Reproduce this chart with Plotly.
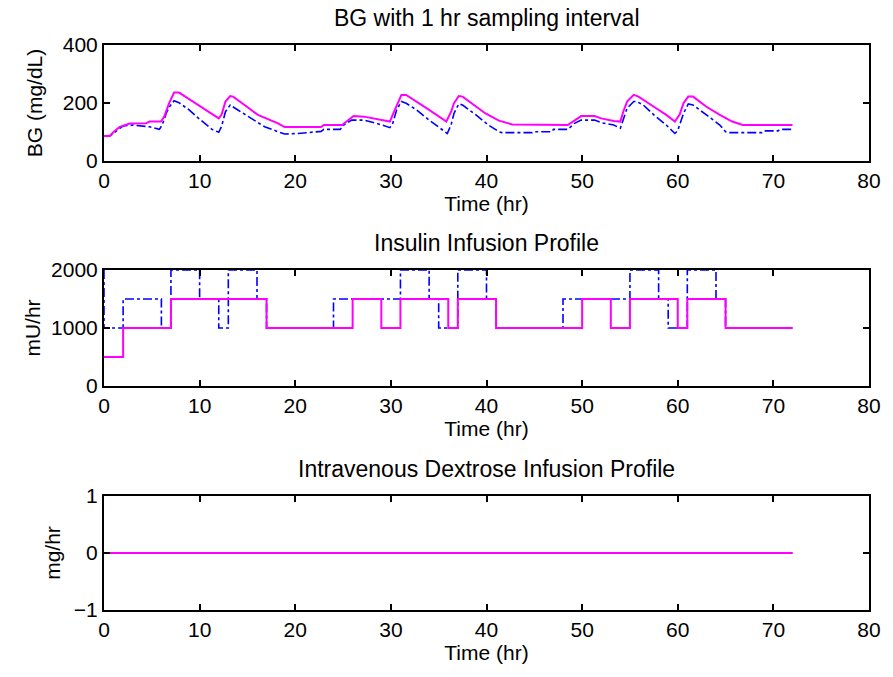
import plotly.graph_objects as go

# ---- Blood glucose (mg/dL) ----
bg_t_mag = [0, 0.6, 1.0, 1.65, 2.7, 4.4, 4.75, 5.96, 6.3, 6.8, 7.33, 7.85, 8.5, 9.9,
            11.3, 12.0, 12.3, 12.7, 13.2, 13.5, 14.7, 16.1, 18.2, 18.9, 22.7, 23.0,
            24.9, 25.5, 26.1, 27.2, 28.5, 29.9, 30.2, 30.6, 31.1, 31.6, 32.7, 34.0,
            35.8, 36.3, 36.6, 37.1, 37.5, 38.5, 39.9, 41.3, 42.7, 48.5, 49.5, 49.9,
            51.3, 52.0, 53.3, 54.0, 54.3, 54.7, 55.4, 55.9, 57.5, 58.8, 59.7, 60.2,
            60.6, 61.1, 61.6, 63.0, 64.4, 65.7, 66.8, 72]
bg_mag = [86, 86, 100, 118, 129, 130, 136, 136, 153, 199, 236, 236, 222, 193,
          164, 147, 160, 205, 224, 222, 193, 159, 130, 117, 117, 124,
          124, 140, 155, 153, 144, 136, 160, 193, 228, 228, 205, 176,
          136, 170, 199, 224, 222, 199, 164, 139, 126, 124, 144, 155,
          155, 147, 138, 136, 170, 205, 228, 222, 187, 159, 136, 160,
          199, 222, 222, 187, 159, 136, 124, 124]

bg_t_blue = [0, 0.6, 2.0, 3.0, 4.75, 5.8, 6.1, 6.5, 6.8, 7.33, 7.85, 8.9, 9.9, 11.3,
             12.0, 12.3, 12.7, 13.2, 14.0, 15.4, 16.8, 18.2, 18.9, 20.3, 21.5, 22.7,
             23.0, 24.7, 25.1, 25.9, 27.2, 28.5, 29.9, 30.2, 30.6, 31.1, 31.6, 32.7,
             34.0, 35.4, 35.9, 36.3, 36.6, 37.1, 37.5, 38.9, 40.2, 41.3, 41.6, 44.8,
             45.0, 46.8, 47.0, 48.5, 49.2, 49.9, 51.3, 52.0, 53.3, 54.0, 54.3, 54.7,
             55.4, 55.7, 56.4, 57.5, 58.8, 59.7, 60.0, 60.6, 61.1, 61.6, 63.0, 64.4,
             65.0, 65.4, 68.8, 69.0, 70.5, 70.7, 72]
bg_blue = [86, 86, 121, 124, 118, 109, 125, 164, 185, 208, 201, 176, 147, 109,
           99, 120, 170, 193, 176, 147, 118, 101, 93, 95, 99, 102,
           109, 109, 125, 141, 141, 130, 115, 130, 176, 205, 199, 176,
           141, 107, 95, 125, 164, 197, 193, 159, 124, 101, 98, 98,
           101, 101, 109, 109, 130, 141, 141, 132, 124, 113, 140, 182,
           205, 205, 193, 159, 124, 95, 105, 164, 197, 193, 159, 124,
           101, 98, 98, 104, 104, 109, 109]

# ---- Insulin infusion (mU/hr), piecewise constant ----
ins_t_mag = [0, 2, 7, 17, 26, 29, 31, 36, 37, 41, 50, 53, 55, 60, 61, 65, 72]
ins_mag = [500, 1000, 1500, 1000, 1500, 1000, 1500, 1000, 1500, 1000, 1500, 1000,
           1500, 1000, 1500, 1000, 1000]
ins_t_blue = [0, 0, 2, 6, 7, 10, 12, 13, 16, 17, 24, 31, 34, 35, 37, 40, 41, 48,
              55, 58, 59, 61, 64, 65, 72]
ins_blue = [2000, 1000, 1500, 1000, 2000, 1500, 1000, 2000, 1500, 1000, 1500, 2000,
            1500, 1000, 2000, 1500, 1000, 1500, 2000, 1500, 1000, 2000, 1500, 1000, 1000]

# ---- IV dextrose infusion (mg/hr) ----
dex_t = [0, 72]
dex_blue = [0, 0]
dex_mag = [0, 0]

x_ticks = [0, 10, 20, 30, 40, 50, 60, 70, 80]
titles = ["BG with 1 hr sampling interval", "Insulin Infusion Profile",
          "Intravenous Dextrose Infusion Profile"]
y_titles = ["BG (mg/dL)", "mU/hr", "mg/hr"]
y_title_gap = [14, 5, 7]
y_ranges = [[0, 400], [0, 2000], [-1, 1]]
y_ticks = [[0, 200, 400], [0, 1000, 2000], [-1, 0, 1]]

BLUE = "rgb(0,0,255)"
MAG = "rgb(255,0,255)"
FONT = "Liberation Sans, Arial, sans-serif"
FS = 21
FS_TITLE = 23

W, H = 893, 677
L, R, T, B = 104, 15, 45, 67
ph = H - T - B
# pixel top/bottom of each panel
panels = [(45, 161), (270, 386), (496, 610)]
domains = [[(H - B - b) / ph, (H - B - t) / ph] for t, b in panels]

fig = go.Figure()
series = [
    (bg_t_blue, bg_blue, bg_t_mag, bg_mag, "linear"),
    (ins_t_blue, ins_blue, ins_t_mag, ins_mag, "hv"),
    (dex_t, dex_blue, dex_t, dex_mag, "linear"),
]
for i, (tb, vb, tm, vm, shape) in enumerate(series):
    xa = "x" if i == 0 else f"x{i+1}"
    ya = "y" if i == 0 else f"y{i+1}"
    fig.add_trace(go.Scatter(x=tb, y=vb, mode="lines", xaxis=xa, yaxis=ya,
                             line=dict(color=BLUE, width=1.6, dash="dashdot", shape=shape),
                             showlegend=False, hoverinfo="skip"))
    fig.add_trace(go.Scatter(x=tm, y=vm, mode="lines", xaxis=xa, yaxis=ya,
                             line=dict(color=MAG, width=2, shape=shape),
                             showlegend=False, hoverinfo="skip"))

layout = dict(
    width=W, height=H,
    margin=dict(l=L, r=R, t=T, b=B),
    paper_bgcolor="white", plot_bgcolor="white",
    font=dict(family=FONT, size=FS, color="black"),
    showlegend=False,
    annotations=[],
)
for i in range(3):
    sx = "" if i == 0 else str(i + 1)
    layout[f"xaxis{sx}"] = dict(
        domain=[0, 1], anchor=f"y{sx}", range=[0, 80], tickvals=x_ticks,
        ticks="inside", ticklen=6, tickwidth=1.5, tickcolor="black",
        showline=True, linecolor="black", linewidth=2, mirror="ticks",
        showgrid=False, zeroline=False,
        title=dict(text="Time (hr)", standoff=0, font=dict(size=FS)),
        tickfont=dict(size=FS),
    )
    layout[f"yaxis{sx}"] = dict(
        domain=domains[i], anchor=f"x{sx}", range=y_ranges[i], tickvals=y_ticks[i],
        ticks="inside", ticklen=6, tickwidth=1.5, tickcolor="black",
        showline=True, linecolor="black", linewidth=2, mirror="ticks",
        showgrid=False, zeroline=False,
        title=dict(text=y_titles[i], standoff=y_title_gap[i], font=dict(size=FS)),
        tickfont=dict(size=FS),
    )
    layout["annotations"].append(dict(
        text=titles[i], xref="paper", yref=f"y{sx} domain", x=0.5, y=1.0,
        xanchor="center", yanchor="bottom", yshift=12, showarrow=False,
        font=dict(size=FS_TITLE),
    ))

fig.update_layout(**layout)
fig.write_html("out.html")
